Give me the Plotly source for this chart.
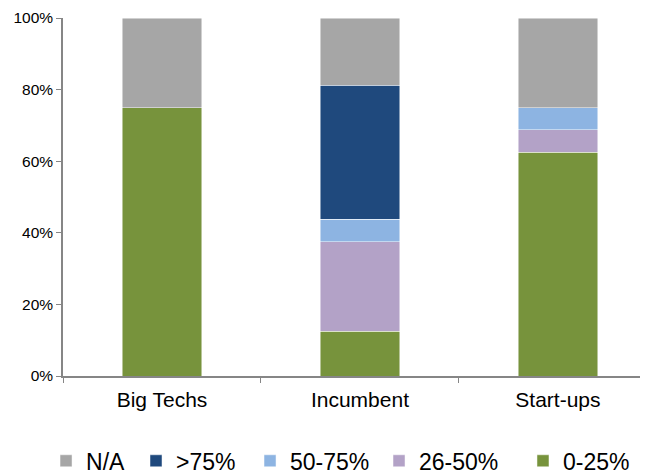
import plotly.graph_objects as go

categories = ["Big Techs", "Incumbent", "Start-ups"]

# share of respondents (%) per bucket, bottom to top
pct_0_25 = [75.0, 12.5, 62.5]
pct_26_50 = [0.0, 25.0, 6.25]
pct_50_75 = [0.0, 6.25, 6.25]
pct_over_75 = [0.0, 37.5, 0.0]
pct_na = [25.0, 18.75, 25.0]

y_ticks = [0, 20, 40, 60, 80, 100]

AXIS_COLOR = "#868686"
FONT = "Liberation Sans, Arial, sans-serif"

# series: name, values, colour, legend id, legend x (paper)
series = [
    ("0-25%", pct_0_25, "#77933C", "legend5", 0.7863),
    ("26-50%", pct_26_50, "#B3A2C7", "legend4", 0.5402),
    ("50-75%", pct_50_75, "#8DB4E2", "legend3", 0.3197),
    (">75%", pct_over_75, "#1F497D", "legend2", 0.1248),
    ("N/A", pct_na, "#A6A6A6", "legend", -0.029),
]

fig = go.Figure()
legends = {}
for name, vals, color, leg, lx in series:
    fig.add_trace(go.Bar(
        x=categories, y=vals, name=name, legend=leg,
        marker=dict(color=color, line=dict(color="rgba(255,255,255,0.6)", width=0.8)),
        width=0.4,
    ))
    legends[leg] = dict(
        orientation="h", x=lx, y=-0.237, xanchor="left", yanchor="middle",
        font=dict(size=23, family=FONT), itemwidth=30, bgcolor="rgba(0,0,0,0)",
    )

# page body has an 8px margin, so the figure margins are offset by it
fig.update_layout(
    barmode="stack",
    width=648, height=474,
    paper_bgcolor="white", plot_bgcolor="white",
    font=dict(family=FONT, color="black"),
    margin=dict(l=55, r=8, t=10, b=106, autoexpand=False),
    showlegend=True,
    **legends,
)

fig.update_xaxes(
    range=[-0.5, 2.455], showline=True, linecolor=AXIS_COLOR, linewidth=1.5,
    tickson="boundaries", ticks="outside", ticklen=5, tickcolor=AXIS_COLOR,
    tickfont=dict(size=21), ticklabelstandoff=4, showgrid=False, automargin=False,
)
fig.update_yaxes(
    range=[0, 100], tickvals=y_ticks, ticktext=[f"{v}%" for v in y_ticks],
    showline=True, linecolor=AXIS_COLOR, linewidth=1.5,
    ticks="outside", ticklen=5, tickcolor=AXIS_COLOR,
    tickfont=dict(size=15.5), showgrid=False, zeroline=False, automargin=False,
)

fig.write_html("out.html")
